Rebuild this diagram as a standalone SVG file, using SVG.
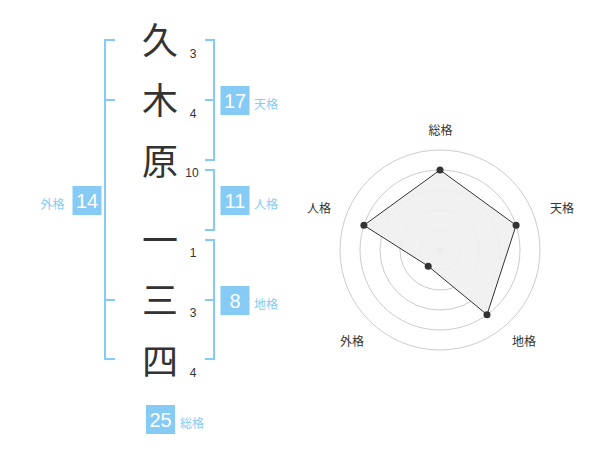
<svg xmlns="http://www.w3.org/2000/svg" width="600" height="470" viewBox="0 0 600 470">
<style>
.ch{font-family:"Noto Sans CJK JP","Noto Sans CJK SC",sans-serif;font-size:36px;fill:#333;text-anchor:middle}
.num{font-family:"Liberation Sans",Arial,sans-serif;font-size:12px;fill:#333;text-anchor:middle}
.br{fill:none;stroke:#85cbf5;stroke-width:2}
.box{fill:#85cbf5}
.bn{font-family:"Liberation Sans",Arial,sans-serif;font-size:20px;fill:#fff;text-anchor:middle}
.lb{font-family:"Noto Sans CJK JP","Noto Sans CJK SC",sans-serif;font-size:12px;fill:#85cbf5}
.ring{fill:none;stroke:#cccccc;stroke-width:1}
.rl{font-family:"Noto Sans CJK JP","Noto Sans CJK SC",sans-serif;font-size:12px;fill:#333;text-anchor:middle}
.pt{fill:#333}
</style>
<rect width="600" height="470" fill="#fff"/>
<g id="connectors">
<path class="br" d="M115,40 H105 V359 H115 M105,100 H115 M105,300 H115"/>
<path class="br" d="M205,40 H214 V160 H205 M205,100 H214"/>
<path class="br" d="M205,170 H214 V230 H205"/>
<path class="br" d="M205,240 H214 V359 H205 M205,300 H214"/>
</g>
<g id="chars">
<text class="ch" x="160" y="54">久</text>
<text class="ch" x="160" y="114">木</text>
<text class="ch" x="160" y="175">原</text>
<text class="ch" x="160" y="254">一</text>
<text class="ch" x="160" y="314">三</text>
<text class="ch" x="160" y="375">四</text>
</g>
<g id="strokes">
<text class="num" x="193" y="58">3</text>
<text class="num" x="193" y="118">4</text>
<text class="num" x="192" y="177">10</text>
<text class="num" x="193" y="257">1</text>
<text class="num" x="193" y="317">3</text>
<text class="num" x="193" y="377">4</text>
</g>
<g id="tenkaku">
<rect class="box" x="220.5" y="86" width="29" height="29"/>
<text class="bn" x="235" y="107.5">17</text>
<text class="lb" x="254" y="109">天格</text>
</g>
<g id="jinkaku">
<rect class="box" x="220.5" y="186" width="29" height="29"/>
<text class="bn" x="235" y="207.5">11</text>
<text class="lb" x="254" y="209">人格</text>
</g>
<g id="chikaku">
<rect class="box" x="220.5" y="286" width="29" height="29"/>
<text class="bn" x="235" y="307.5">8</text>
<text class="lb" x="254" y="309">地格</text>
</g>
<g id="gaikaku">
<rect class="box" x="72.5" y="186" width="29" height="29"/>
<text class="bn" x="87" y="207.5">14</text>
<text class="lb" x="40.5" y="209">外格</text>
</g>
<g id="soukaku">
<rect class="box" x="146" y="405" width="29" height="29"/>
<text class="bn" x="160.5" y="426.5">25</text>
<text class="lb" x="180" y="428">総格</text>
</g>
<g id="radar">
<circle class="ring" cx="440" cy="250" r="20"/>
<circle class="ring" cx="440" cy="250" r="40"/>
<circle class="ring" cx="440" cy="250" r="60"/>
<circle class="ring" cx="440" cy="250" r="80"/>
<circle class="ring" cx="440" cy="250" r="100"/>
<circle cx="440" cy="250" r="3.5" fill="#cccccc"/>
<polygon points="440,170 516.1,225.3 487,314.7 428.2,266.2 363.9,225.3" fill="#f0f0f0" fill-opacity="0.9" stroke="#333" stroke-width="1"/>
<circle class="pt" cx="440" cy="170" r="3.5"/>
<circle class="pt" cx="516.1" cy="225.3" r="3.5"/>
<circle class="pt" cx="487" cy="314.7" r="3.5"/>
<circle class="pt" cx="428.2" cy="266.2" r="3.5"/>
<circle class="pt" cx="363.9" cy="225.3" r="3.5"/>
<text class="rl" x="440.5" y="135">総格</text>
<text class="rl" x="562" y="213">天格</text>
<text class="rl" x="319" y="213">人格</text>
<text class="rl" x="352" y="346">外格</text>
<text class="rl" x="524" y="346">地格</text>
</g>
</svg>
